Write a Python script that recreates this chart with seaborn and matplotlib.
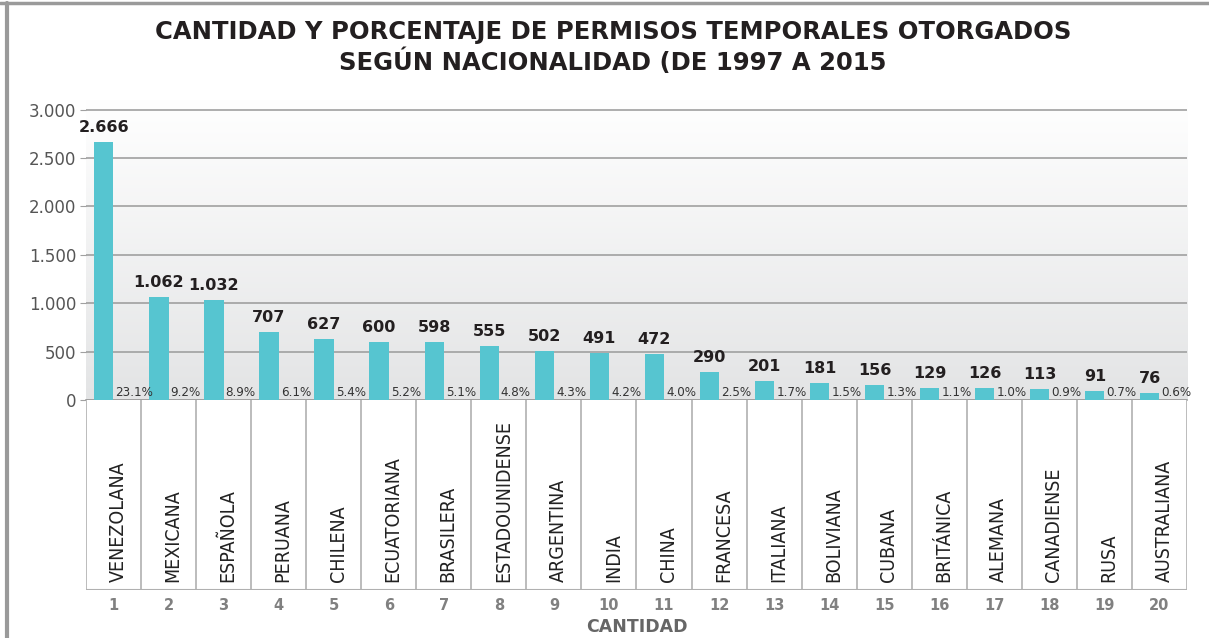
import numpy as np
import pandas as pd
import matplotlib
matplotlib.use("Agg")
import matplotlib.pyplot as plt
import seaborn as sns
from matplotlib.lines import Line2D

# Datos
nacionalidades = ["VENEZOLANA", "MEXICANA", "ESPAÑOLA", "PERUANA", "CHILENA",
                  "ECUATORIANA", "BRASILERA", "ESTADOUNIDENSE", "ARGENTINA", "INDIA",
                  "CHINA", "FRANCESA", "ITALIANA", "BOLIVIANA", "CUBANA",
                  "BRITÁNICA", "ALEMANA", "CANADIENSE", "RUSA", "AUSTRALIANA"]
cantidad = [2666, 1062, 1032, 707, 627, 600, 598, 555, 502, 491,
            472, 290, 201, 181, 156, 129, 126, 113, 91, 76]
porcentaje = [23.1, 9.2, 8.9, 6.1, 5.4, 5.2, 5.1, 4.8, 4.3, 4.2,
              4.0, 2.5, 1.7, 1.5, 1.3, 1.1, 1.0, 0.9, 0.7, 0.6]
rango = list(range(1, 21))
yticks = [0, 500, 1000, 1500, 2000, 2500, 3000]

titulo = "CANTIDAD Y PORCENTAJE DE PERMISOS TEMPORALES OTORGADOS\nSEGÚN NACIONALIDAD (DE 1997 A 2015"

color_barra = "#56c5d0"
gris_txt = "#555555"

# Tabla larga: la serie de porcentaje se dibuja como barra casi nula (solo etiqueta)
df = pd.concat([
    pd.DataFrame({"rank": rango, "serie": "Cantidad", "valor": cantidad}),
    pd.DataFrame({"rank": rango, "serie": "Porcentaje", "valor": [p / 100 for p in porcentaje]}),
])

sns.set_style("white")
plt.rcParams["font.family"] = ["DejaVu Sans"]

fig = plt.figure(figsize=(12.09, 6.38), dpi=100)
ax = fig.add_axes([0.0711, 0.373, 0.9107, 0.4703])
ax2 = fig.add_axes([0.0711, 0.0752, 0.9107, 0.2978])

# fondo degradado del area de grafico
grad = np.linspace(0, 1, 256).reshape(-1, 1)
cmap = matplotlib.colors.LinearSegmentedColormap.from_list("g", ["#ffffff", "#e3e4e5"])
ax.imshow(grad, aspect="auto", cmap=cmap, extent=[-0.5, 19.5, 0, 3100],
          origin="upper", zorder=0)

sns.barplot(data=df, x="rank", y="valor", hue="serie", dodge=True, width=0.7,
            palette={"Cantidad": color_barra, "Porcentaje": (0, 0, 0, 0)},
            saturation=1, linewidth=0, legend=False, ax=ax, zorder=3)

ax.set_xlim(-0.5, 19.5)
ax.set_ylim(0, 3100)
ax.set_yticks(yticks)
ax.set_yticklabels([f"{v:,}".replace(",", ".") for v in yticks],
                   fontsize=12, color=gris_txt)
ax.yaxis.grid(True, color="#a0a0a0", linewidth=1.2, zorder=1)
ax.set_axisbelow(True)
ax.tick_params(axis="y", length=4, color="#a0a0a0", pad=3, left=True)
ax.set_xticks([])
ax.set_xlabel("")
ax.set_ylabel("")
for s in ["top", "right", "left"]:
    ax.spines[s].set_visible(False)
ax.spines["bottom"].set_color("#a0a0a0")
ax.spines["bottom"].set_linewidth(1.2)

# etiquetas de cantidad
ax.bar_label(ax.containers[0], labels=[f"{v:,}".replace(",", ".") for v in cantidad],
             padding=5, fontsize=11.5, fontweight="heavy", color="#231f20", zorder=5)

# etiquetas de porcentaje al lado de cada barra
for patch, p in zip(ax.containers[1], porcentaje):
    ax.annotate(f"{p:.1f}%", xy=(patch.get_x(), 0), xytext=(1.5, 1),
                textcoords="offset points", ha="left", va="bottom",
                fontsize=9.5, family="DejaVu Sans", fontstretch="condensed",
                color="#333333", zorder=5)

# tabla de nacionalidades
ax2.set_xlim(-0.5, 19.5)
ax2.set_ylim(0, 1)
ax2.vlines(np.arange(21) - 0.5, 0, 1, color="#b0b0b0", linewidth=1.2)
ax2.axhline(0, color="#b0b0b0", linewidth=1.5)
for i, nombre in enumerate(nacionalidades):
    ax2.text(i + 0.08, 0.04, nombre, rotation=90, ha="center", va="bottom",
             fontsize=14, family="DejaVu Sans", fontstretch="condensed",
             color="#222222")
ax2.set_xticks(range(20))
ax2.set_xticklabels(rango, fontsize=10.5, fontweight="bold", color="#808080")
ax2.tick_params(axis="x", length=0, pad=6)
ax2.set_yticks([])
ax2.set_xlabel("CANTIDAD", fontsize=12.5, fontweight="bold", color="#666666", labelpad=3)
for s in ax2.spines.values():
    s.set_visible(False)

fig.text(0.507, 0.969, titulo, ha="center", va="top", fontsize=17.5,
         fontweight="bold", color="#231f20", linespacing=1.2)

# marco gris superior e izquierdo
fig.add_artist(Line2D([0, 1], [0.995, 0.995], color="#9a9a9a", linewidth=2.5,
                      transform=fig.transFigure))
fig.add_artist(Line2D([0.0055, 0.0055], [0, 0.995], color="#9a9a9a", linewidth=3,
                      transform=fig.transFigure))

plt.savefig("out.png", dpi=100)
